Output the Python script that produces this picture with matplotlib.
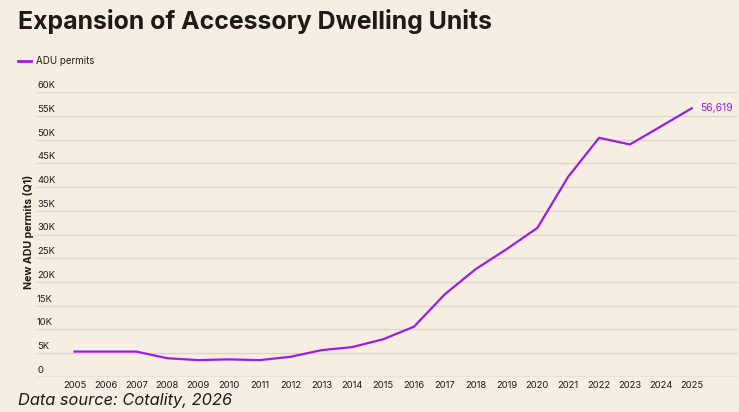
import matplotlib
matplotlib.use("Agg")
import matplotlib.pyplot as plt
import matplotlib.transforms as mtransforms

# ---------------------------------------------------------------------------
# Data
# ---------------------------------------------------------------------------
years = [2005, 2006, 2007, 2008, 2009, 2010, 2011, 2012, 2013, 2014, 2015,
         2016, 2017, 2018, 2019, 2020, 2021, 2022, 2023, 2024, 2025]
adu_permits = [5300, 5300, 5300, 3900, 3500, 3650, 3500, 4200, 5600, 6250,
               7900, 10550, 17400, 22700, 26900, 31400, 42200, 50400, 49000,
               52800, 56619]
y_ticks = [0, 5000, 10000, 15000, 20000, 25000, 30000, 35000, 40000, 45000,
           50000, 55000, 60000]
y_tick_labels = ["0", "5K", "10K", "15K", "20K", "25K", "30K", "35K", "40K",
                 "45K", "50K", "55K", "60K"]
last_label = "56,619"

BG = "#f7eee3"
PURPLE = "#9a1de3"
GRID = "#ddd5ca"
TEXT = "#1e1a16"
FONT = ["Inter", "DejaVu Sans"]

plt.rcParams["font.family"] = FONT

W, H = 739, 412
fig = plt.figure(figsize=(W / 100, H / 100), dpi=100, facecolor=BG)

left, right = 37 / W, 737 / W
bottom, top = 1 - 376.7 / H, 1 - 92.3 / H
ax = fig.add_axes([left, bottom, right - left, top - bottom])
ax.set_facecolor(BG)

ax.plot(years, adu_permits, color=PURPLE, linewidth=1.6, solid_joinstyle="round",
        zorder=3)

ax.set_xlim(2003.78, 2026.47)
ax.set_ylim(0, 60000)

for s in ax.spines.values():
    s.set_visible(False)

# gridlines + y labels sitting just above them
trans = mtransforms.blended_transform_factory(ax.transAxes, ax.transData)
for v, lab in zip(y_ticks, y_tick_labels):
    ax.axhline(v, color="#bdb5aa" if v == 0 else GRID, linewidth=1.0,
               zorder=1)
    ax.text(0.0, v, lab, transform=trans + mtransforms.ScaledTranslation(
        0, 2 / 100, fig.dpi_scale_trans), ha="left", va="bottom",
        fontsize=6.8, color=TEXT)
ax.set_yticks([])

ax.set_xticks(years)
ax.set_xticklabels([str(y) for y in years], fontsize=6.8, color=TEXT)
ax.tick_params(axis="x", length=0, pad=3)

ax.annotate(last_label, (years[-1], adu_permits[-1]), xytext=(6, 0),
            textcoords="offset points", ha="left", va="center",
            fontsize=7.5, color=PURPLE)

fig.text(28 / W, 1 - 232 / H, "New ADU permits (Q1)", rotation=90,
         ha="center", va="center", fontsize=7.6, fontweight="bold", color=TEXT)

fig.text(18 / W, 1 - 21 / H, "Expansion of Accessory Dwelling Units",
         ha="left", va="center", fontsize=17.9, fontweight="bold", color=TEXT)

# legend
fig.add_artist(plt.Line2D([18 / W, 31 / W], [1 - 61 / H, 1 - 61 / H],
                          color=PURPLE, linewidth=2.0))
fig.text(36 / W, 1 - 61 / H, "ADU permits", ha="left", va="center",
         fontsize=7, color=TEXT)

fig.text(18 / W, 1 - 401 / H, "Data source: Cotality, 2026", ha="left",
         va="center", fontsize=11.8, style="italic", color=TEXT)

fig.savefig("out.png", dpi=100, facecolor=BG)
